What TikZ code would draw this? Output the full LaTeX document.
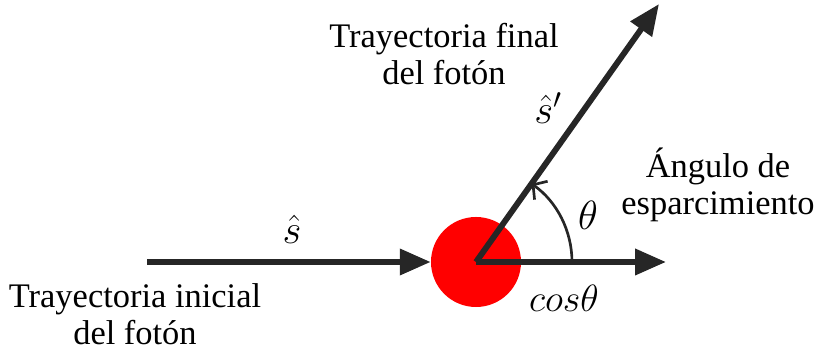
\RequirePackage{fix-cm}
\documentclass[tikz,border=0pt]{standalone}
\usepackage{fontspec}
\setmainfont{Liberation Serif}
\usetikzlibrary{arrows.meta,calc}
\begin{document}
\begin{tikzpicture}[x=0.025cm,y=0.025cm,>={Triangle[length=22pt,width=18pt]},
 font=\fontsize{24.5}{26.5}\selectfont,
 vec/.style={->,line width=4.2pt,black!85},
 lbl/.style={align=center,inner sep=0pt},
 mth/.style={font=\fontsize{29}{30}\selectfont}]
\useasboundingbox (0,0) rectangle (817,352);
\coordinate (o) at (476,90);
\coordinate (ini) at (147,90);
\coordinate (hor) at (666,90);
\coordinate (fin) at (659,348);
\node[circle,fill=red,minimum size=2.25cm,inner sep=0pt] (e) at (o) {};
\draw[vec] (ini) -- (e.west);
\draw[vec] (o) -- (hor);
\draw[vec] (o) -- (fin);
\draw[line width=1.9pt,black!85,-{Straight Barb[length=7pt,width=16pt]}] ($(o)+(96,0)$) arc[start angle=0,end angle=54.6,radius=96];
\node[mth] (s) at (292,123) {$\hat{s}$};
\node[mth] (sp) at (548,244) {$\hat{s}'$};
\node[mth] (th) at (588,137) {$\theta$};
\node[font=\fontsize{27}{28}\selectfont] (cos) at (564,54) {$cos\theta$};
\node[lbl] (tf) at (444,298) {Trayectoria final\\del fotón};
\node[lbl] (ti) at (135,38) {Trayectoria inicial\\del fotón};
\node[lbl] (ang) at (718,167) {Ángulo de\\esparcimiento};
\end{tikzpicture}
\end{document}
